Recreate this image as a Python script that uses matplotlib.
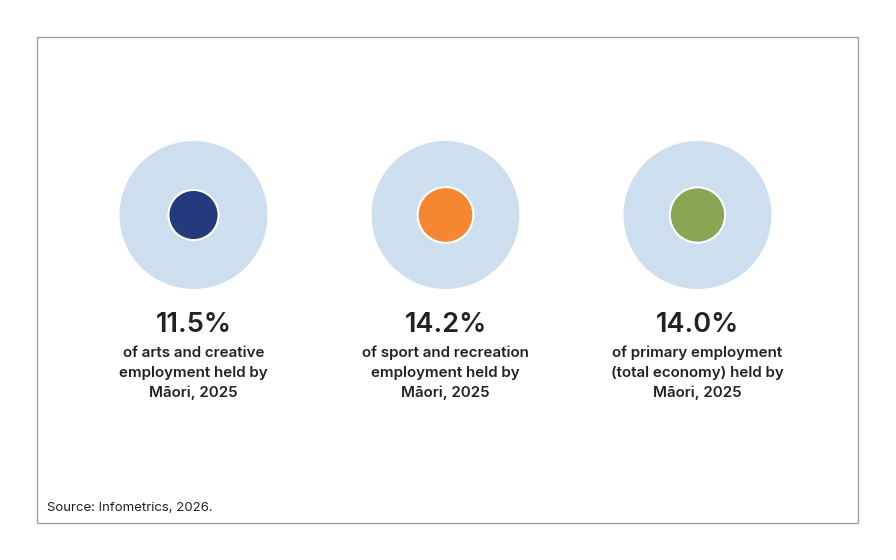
import matplotlib.pyplot as plt
from matplotlib.patches import Circle, Rectangle

plt.rcParams['font.family'] = ['Inter', 'DejaVu Sans']

# Data
values = [11.5, 14.2, 14.0]
labels = ['11.5%', '14.2%', '14.0%']
captions = [
    'of arts and creative\nemployment held by\nMāori, 2025',
    'of sport and recreation\nemployment held by\nMāori, 2025',
    'of primary employment\n(total economy) held by\nMāori, 2025',
]
colors = ['#233b7d', '#f58732', '#8aa654']
source = 'Source: Infometrics, 2026.'

fig = plt.figure(figsize=(8.96, 5.6), dpi=100)
ax = fig.add_axes([0, 0, 1, 1])
ax.set_xlim(0, 896)
ax.set_ylim(560, 0)
ax.set_aspect('equal')
ax.axis('off')

# frame
ax.add_patch(Rectangle((36.5, 36.5), 822, 486, fill=False, edgecolor='#a0a0a0', linewidth=1))

outer_r = 74
centers = [193.5, 445.5, 697.5]
cy = 215

for cx, v, lab, cap, col in zip(centers, values, labels, captions, colors):
    ax.add_patch(Circle((cx, cy), outer_r, facecolor='#cddfee', edgecolor='none'))
    r = outer_r * (v / 100) ** 0.5
    ax.add_patch(Circle((cx, cy), r, facecolor=col, edgecolor='white', linewidth=1.5))
    ax.text(cx, 325, lab, ha='center', va='center', fontsize=19.5,
            fontweight='semibold', color='#222222')
    ax.text(cx, 373, cap, ha='center', va='center', fontsize=10.9,
            fontweight='semibold', color='#222222', linespacing=1.5)

ax.text(47, 508, source, ha='left', va='center', fontsize=9.5, color='#222222')

fig.savefig('out.png', dpi=100)
